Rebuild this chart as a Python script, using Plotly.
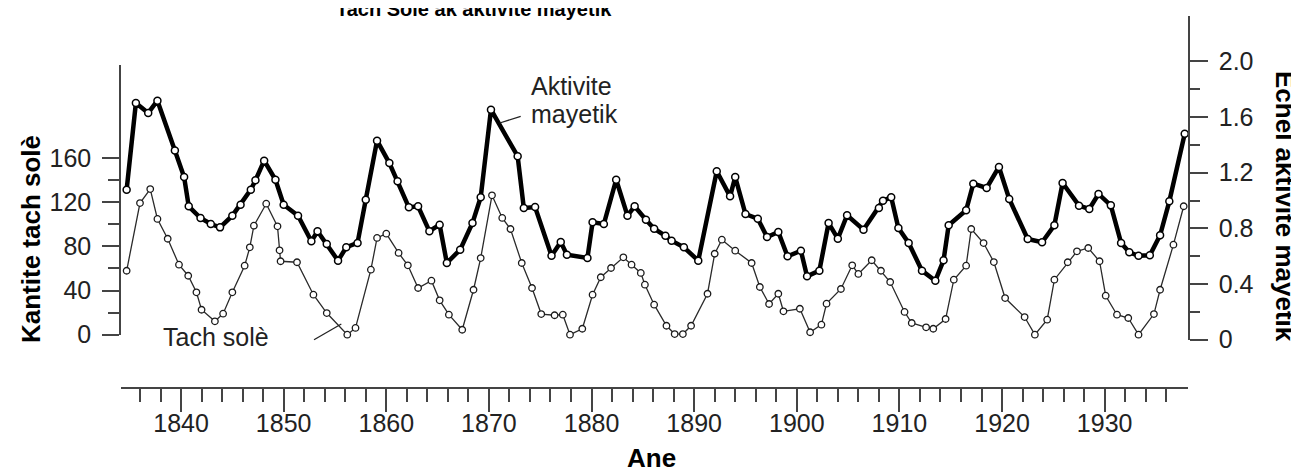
import plotly.graph_objects as go

# ---------------- data ----------------
mag_years = [1834.7, 1835.6, 1836.8, 1837.7, 1839.4, 1840.3, 1840.75, 1841.9, 1842.9, 1843.8,
             1845.0, 1845.8, 1846.8, 1847.25, 1848.1, 1849.2, 1850.0, 1851.4, 1852.7, 1853.3,
             1854.2, 1855.3, 1856.1, 1857.2, 1858.0, 1859.1, 1860.3, 1861.1, 1862.2, 1863.1,
             1864.2, 1865.2, 1865.9, 1867.2, 1868.4, 1869.2, 1870.2, 1872.8, 1873.4, 1874.5,
             1876.1, 1877.0, 1877.6, 1879.6, 1880.1, 1881.2, 1882.4, 1883.5, 1884.2, 1885.3,
             1886.1, 1887.2, 1887.8, 1889.0, 1890.4, 1892.2, 1893.5, 1894.0, 1895.0, 1896.2,
             1897.1, 1898.2, 1899.1, 1900.4, 1901.0, 1902.2, 1903.1, 1904.0, 1904.9, 1906.5,
             1908.0, 1908.4, 1909.2, 1909.9, 1910.9, 1912.2, 1913.5, 1914.3, 1914.8, 1916.5,
             1917.2, 1918.5, 1919.7, 1920.7, 1922.5, 1923.9, 1925.1, 1925.9, 1927.5, 1928.5,
             1929.4, 1930.6, 1931.6, 1932.4, 1933.3, 1934.4, 1935.4, 1936.3, 1937.8]
mag_values = [1.078, 1.700, 1.629, 1.717, 1.360, 1.169, 0.958, 0.874, 0.831, 0.807,
              0.891, 0.970, 1.078, 1.145, 1.286, 1.149, 0.970, 0.891, 0.707, 0.779,
              0.688, 0.568, 0.664, 0.695, 1.006, 1.430, 1.269, 1.138, 0.951, 0.958,
              0.779, 0.826, 0.551, 0.647, 0.838, 1.023, 1.652, 1.318, 0.946, 0.953,
              0.603, 0.702, 0.611, 0.587, 0.843, 0.831, 1.149, 0.891, 0.958, 0.862,
              0.797, 0.747, 0.711, 0.664, 0.568, 1.210, 1.030, 1.169, 0.903, 0.869,
              0.738, 0.774, 0.599, 0.639, 0.455, 0.496, 0.838, 0.726, 0.894, 0.790,
              0.946, 0.999, 1.023, 0.802, 0.695, 0.496, 0.424, 0.570, 0.822, 0.930,
              1.121, 1.090, 1.241, 1.011, 0.723, 0.700, 0.822, 1.126, 0.963, 0.939,
              1.047, 0.965, 0.695, 0.628, 0.603, 0.606, 0.750, 0.994, 1.480]

spot_years = [1834.7, 1836.0, 1837.0, 1837.7, 1838.7, 1839.8, 1840.7, 1841.5, 1842.0, 1843.3,
              1844.1, 1845.0, 1846.2, 1846.7, 1847.1, 1848.3, 1849.4, 1849.6, 1849.7, 1851.3,
              1852.9, 1854.2, 1856.2, 1857.0, 1858.5, 1859.1, 1860.0, 1861.2, 1862.1, 1863.1,
              1864.4, 1865.2, 1866.1, 1867.4, 1868.5, 1869.2, 1870.3, 1871.3, 1872.1, 1873.2,
              1874.2, 1875.1, 1876.4, 1877.2, 1877.9, 1879.1, 1880.1, 1880.9, 1881.9, 1883.1,
              1883.9, 1884.8, 1885.2, 1886.1, 1887.3, 1888.1, 1888.9, 1889.7, 1891.3, 1892.0,
              1892.7, 1894.0, 1895.6, 1896.4, 1897.3, 1898.2, 1898.7, 1900.3, 1901.3, 1902.4,
              1902.9, 1904.3, 1905.4, 1906.0, 1907.3, 1908.2, 1909.1, 1910.5, 1911.2, 1912.6,
              1913.3, 1914.5, 1915.3, 1916.5, 1917.0, 1918.2, 1919.2, 1920.3, 1922.2, 1923.2,
              1924.4, 1925.1, 1926.4, 1927.3, 1928.4, 1929.5, 1930.1, 1931.2, 1932.3, 1933.3,
              1934.8, 1935.4, 1936.7, 1937.7]
spot_values = [57.9, 119.2, 131.9, 104.8, 86.9, 63.4, 53.4, 38.4, 22.6, 12.1,
               19.0, 38.4, 62.5, 79.1, 98.7, 118.6, 98.1, 76.4, 66.5, 65.6,
               36.2, 19.6, 0.0, 6.1, 58.9, 87.6, 91.5, 74.0, 62.8, 42.3,
               48.9, 31.1, 18.1, 4.5, 40.7, 69.4, 126.2, 105.7, 95.7, 64.9,
               42.3, 18.7, 17.6, 18.1, 0.0, 5.4, 36.2, 52.0, 60.4, 70.1,
               63.4, 55.9, 45.3, 27.2, 8.1, 0.6, 0.6, 8.1, 37.1, 73.3,
               86.0, 76.1, 64.9, 43.2, 27.8, 37.1, 21.2, 23.5, 2.2, 9.1,
               28.1, 41.4, 62.8, 55.0, 67.4, 57.9, 47.7, 20.6, 10.6, 6.7,
               5.4, 14.2, 49.8, 62.5, 95.7, 83.0, 65.8, 33.2, 16.0, 0.0,
               13.6, 49.8, 65.6, 75.5, 78.5, 66.5, 35.3, 18.1, 15.1, 0.0,
               18.7, 40.7, 81.5, 116.3]

left_tickvals = [0, 40, 80, 120, 160]
left_minorvals = [20, 60, 100, 140]
right_tickvals = [0, 0.4, 0.8, 1.2, 1.6, 2.0]
right_ticktext = ["0", "0.4", "0.8", "1.2", "1.6", "2.0"]
right_minorvals = [0.2, 0.6, 1.0, 1.4, 1.8]
x_tickvals = list(range(1840, 1931, 10))
x_minorvals = [y for y in range(1836, 1937, 2) if y % 10 != 0]

title_text = "Tach Solè ak aktivite mayetik"
x_title = "Ane"
left_title = "Kantite tach solè"
right_title = "Echèl aktivite mayetik"
label_mag = ["Aktivite", "mayetik"]
label_spot = "Tach solè"

# ---------------- layout helpers ----------------
W, H = 1299, 470
L, R, T, B = 113, 119, 8, 90
PW, PH = W - L - R, H - T - B


def px(x):
    return (x - L) / PW


def py(y):
    return (H - B - y) / PH


FONT = "Liberation Sans, Arial, sans-serif"
AX = "#444444"
TXT = "#222222"

fig = go.Figure()

fig.add_trace(go.Scatter(
    x=spot_years, y=spot_values, xaxis="x", yaxis="y", mode="lines+markers",
    line=dict(color="#2a2a2a", width=1.3),
    marker=dict(symbol="circle", size=6.5, color="white", line=dict(color="#1a1a1a", width=1.3)),
    cliponaxis=False, showlegend=False, hoverinfo="x+y"))

fig.add_trace(go.Scatter(
    x=mag_years, y=mag_values, xaxis="x", yaxis="y2", mode="lines+markers",
    line=dict(color="black", width=4.5),
    marker=dict(symbol="circle", size=7, color="white", line=dict(color="black", width=1.5)),
    cliponaxis=False, showlegend=False, hoverinfo="x+y"))

# axis scales (pixel calibration)
y_left_top = (326.7 - 57) / 1.1044
y_right_top = (331.7 - 8.3) / 139.2

fig.update_layout(
    width=W, height=H,
    margin=dict(l=L, r=R, t=T, b=B, pad=0),
    paper_bgcolor="white", plot_bgcolor="rgba(0,0,0,0)",
    font=dict(family=FONT, size=25, color=TXT),
    xaxis=dict(
        domain=[0, 1], range=[1834.15, 1938.12], anchor="free", position=0,
        showline=True, linecolor=AX, linewidth=1.5, showgrid=False, zeroline=False,
        ticks="outside", ticklen=23, tickwidth=1.5, tickcolor=AX,
        tickmode="array", tickvals=x_tickvals, ticktext=[str(v) for v in x_tickvals],
        tickfont=dict(family=FONT, size=25, color=TXT), ticklabelstandoff=-10,
        minor=dict(tickmode="array", tickvals=x_minorvals, ticks="outside",
                   ticklen=13, tickwidth=1.5, tickcolor=AX, showgrid=False),
    ),
    yaxis=dict(
        domain=[py(326.7), py(57)], range=[0, y_left_top], anchor="x", side="left",
        showline=True, linecolor=AX, linewidth=1.5, showgrid=False, zeroline=False,
        ticks="outside", ticklen=17, tickwidth=1.5, tickcolor=AX,
        tickmode="array", tickvals=left_tickvals, ticktext=[str(v) for v in left_tickvals],
        tickfont=dict(family=FONT, size=25, color=TXT), ticklabelstandoff=6,
        minor=dict(tickmode="array", tickvals=left_minorvals, ticks="outside",
                   ticklen=11, tickwidth=1.5, tickcolor=AX, showgrid=False),
    ),
    yaxis2=dict(
        domain=[py(331.7), py(8.3)], range=[0, y_right_top], anchor="x", side="right",
        showline=True, linecolor=AX, linewidth=1.5, showgrid=False, zeroline=False,
        ticks="outside", ticklen=18, tickwidth=1.5, tickcolor=AX,
        tickmode="array", tickvals=right_tickvals, ticktext=right_ticktext,
        tickfont=dict(family=FONT, size=25, color=TXT), ticklabelstandoff=6,
        minor=dict(tickmode="array", tickvals=right_minorvals, ticks="outside",
                   ticklen=10, tickwidth=1.5, tickcolor=AX, showgrid=False),
    ),
)

ann = []
ann.append(dict(text="<b>%s</b>" % title_text, x=px(466), y=py(1), xref="paper", yref="paper",
                xanchor="center", yanchor="middle", showarrow=False,
                font=dict(family=FONT, size=20, color="black")))
ann.append(dict(text="<b>%s</b>" % x_title, x=px(643), y=py(450), xref="paper", yref="paper",
                xanchor="center", yanchor="middle", showarrow=False,
                font=dict(family=FONT, size=26, color="black")))
ann.append(dict(text="<b>%s</b>" % left_title, x=px(23), y=py(231), xref="paper", yref="paper",
                xanchor="center", yanchor="middle", showarrow=False, textangle=-90,
                font=dict(family=FONT, size=26, color="black")))
ann.append(dict(text="<b>%s</b>" % right_title, x=px(1277), y=py(198), xref="paper", yref="paper",
                xanchor="center", yanchor="middle", showarrow=False, textangle=90,
                font=dict(family=FONT, size=26, color="black")))
ann.append(dict(text=label_mag[0], x=px(521), y=py(78), xref="paper", yref="paper",
                xanchor="left", yanchor="middle", showarrow=False,
                font=dict(family=FONT, size=25, color=TXT)))
ann.append(dict(text=label_mag[1], x=px(521), y=py(106), xref="paper", yref="paper",
                xanchor="left", yanchor="middle", showarrow=False,
                font=dict(family=FONT, size=25, color=TXT)))
ann.append(dict(text=label_spot, x=px(208), y=py(329), xref="paper", yref="paper",
                xanchor="center", yanchor="middle", showarrow=False,
                font=dict(family=FONT, size=25, color=TXT)))
fig.update_layout(annotations=ann)

shapes = [
    dict(type="line", xref="paper", yref="paper", x0=px(491.7), y0=py(115), x1=px(512.7), y1=py(108.3),
         line=dict(color=TXT, width=1.3)),
    dict(type="line", xref="paper", yref="paper", x0=px(306), y0=py(331.7), x1=px(333.3), y1=py(316),
         line=dict(color=TXT, width=1.3)),
]
fig.update_layout(shapes=shapes)

fig.write_html("out.html")
